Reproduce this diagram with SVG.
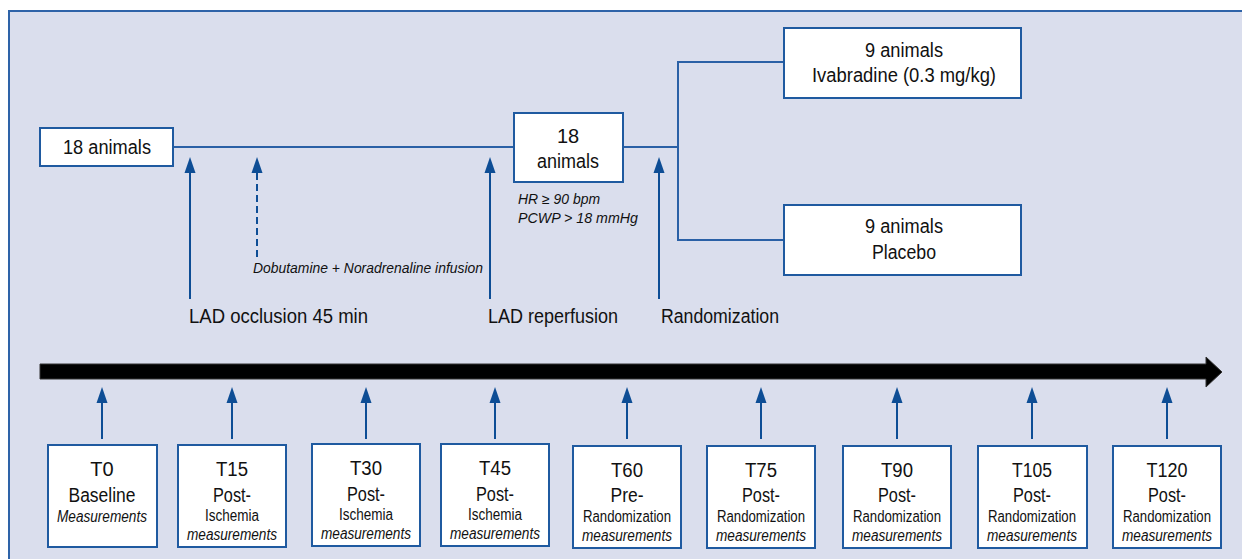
<svg xmlns="http://www.w3.org/2000/svg" width="1242" height="559" viewBox="0 0 1242 559">
<defs>
<style>
.bg{fill:#dadeed;stroke:#2e63a8;stroke-width:2}
.box{fill:#fff;stroke:#1f5aa0;stroke-width:2}
.con{fill:none;stroke:#2a60a6;stroke-width:2}
.arr{fill:none;stroke:#0d4d95;stroke-width:2}
.dash{stroke-dasharray:7 4}
text{font-family:"Liberation Sans",Arial,sans-serif;fill:#111}
.big{font-size:20px}
.mid{font-size:20px}
.sm{font-size:16px}
.it{font-size:14px;font-style:italic}
.itm{font-size:16px;font-style:italic}
.c{text-anchor:middle}
</style>
<marker id="ah" markerUnits="userSpaceOnUse" markerWidth="16" markerHeight="12" viewBox="0 0 16 12" refX="13" refY="6" orient="auto">
<path d="M16,6 L0,0.5 L0,11.5 Z" fill="#0d4d95"/>
</marker>
</defs>
<rect class="bg" x="9" y="11" width="1240" height="560"/>

<g id="connectors">
<line class="con" x1="173" y1="147" x2="514" y2="147"/>
<line class="con" x1="623" y1="147" x2="678" y2="147"/>
<polyline class="con" points="784,62 678,62 678,240 784,240"/>
<path id="timeline" d="M40,364 L1206,364 L1206,357 L1222,372 L1206,387 L1206,379 L40,379 Z" fill="#000" stroke="#333" stroke-width="1"/>
<g class="arr">
<path d="M190,299 L190,160" marker-end="url(#ah)"/>
<path class="dash" d="M257,257 L257,160" marker-end="url(#ah)"/>
<path d="M490,299 L490,160" marker-end="url(#ah)"/>
<path d="M659,299 L659,160" marker-end="url(#ah)"/>
<path d="M102,439 L102,390" marker-end="url(#ah)"/>
<path d="M232,439 L232,390" marker-end="url(#ah)"/>
<path d="M366,439 L366,390" marker-end="url(#ah)"/>
<path d="M495,439 L495,390" marker-end="url(#ah)"/>
<path d="M627,439 L627,390" marker-end="url(#ah)"/>
<path d="M761,439 L761,390" marker-end="url(#ah)"/>
<path d="M897,439 L897,390" marker-end="url(#ah)"/>
<path d="M1032,439 L1032,390" marker-end="url(#ah)"/>
<path d="M1167,439 L1167,390" marker-end="url(#ah)"/>
</g>
</g>

<g id="labels">
<text class="it" x="253" y="273" textLength="230" lengthAdjust="spacingAndGlyphs">Dobutamine + Noradrenaline infusion</text>
<text class="big" x="189" y="323" textLength="179" lengthAdjust="spacingAndGlyphs">LAD occlusion 45 min</text>
<text class="big" x="488" y="323" textLength="130" lengthAdjust="spacingAndGlyphs">LAD reperfusion</text>
<text class="big" x="661" y="323" textLength="118" lengthAdjust="spacingAndGlyphs">Randomization</text>
<text class="it" x="518" y="204" textLength="82" lengthAdjust="spacingAndGlyphs">HR ≥ 90 bpm</text>
<text class="it" x="518" y="223" textLength="120" lengthAdjust="spacingAndGlyphs">PCWP &gt; 18 mmHg</text>
</g>

<g id="n_start">
<rect class="box" x="40" y="128" width="133" height="38"/>
<text class="big c" x="107" y="154" textLength="88" lengthAdjust="spacingAndGlyphs">18 animals</text>
</g>
<g id="n_mid">
<rect class="box" x="514" y="113" width="109" height="69"/>
<text class="big c" x="568" y="143" font-size="21">18</text>
<text class="big c" x="568" y="168" font-size="21" textLength="62" lengthAdjust="spacingAndGlyphs">animals</text>
</g>
<g id="n_ivab">
<rect class="box" x="784" y="28" width="237" height="70"/>
<text class="big c" x="904" y="57" textLength="78" lengthAdjust="spacingAndGlyphs">9 animals</text>
<text class="big c" x="904" y="82" textLength="184" lengthAdjust="spacingAndGlyphs">Ivabradine (0.3 mg/kg)</text>
</g>
<g id="n_plac">
<rect class="box" x="784" y="205" width="237" height="70"/>
<text class="big c" x="904" y="233" textLength="78" lengthAdjust="spacingAndGlyphs">9 animals</text>
<text class="big c" x="904" y="259" textLength="64" lengthAdjust="spacingAndGlyphs">Placebo</text>
</g>

<g id="t0">
<rect class="box" x="48" y="445" width="109" height="102"/>
<text class="mid c" x="102" y="476">T0</text>
<text class="mid c" x="102" y="502" textLength="67" lengthAdjust="spacingAndGlyphs">Baseline</text>
<text class="itm c" x="102" y="522" textLength="90" lengthAdjust="spacingAndGlyphs">Measurements</text>
</g>
<g id="t15">
<rect class="box" x="178" y="445" width="108" height="102"/>
<text class="mid c" x="232" y="476" textLength="32" lengthAdjust="spacingAndGlyphs">T15</text>
<text class="mid c" x="232" y="502" textLength="38" lengthAdjust="spacingAndGlyphs">Post-</text>
<text class="sm c" x="232" y="521" textLength="54" lengthAdjust="spacingAndGlyphs">Ischemia</text>
<text class="itm c" x="232" y="540" textLength="90" lengthAdjust="spacingAndGlyphs">measurements</text>
</g>
<g id="t30">
<rect class="box" x="312" y="444" width="108" height="102"/>
<text class="mid c" x="366" y="475" textLength="32" lengthAdjust="spacingAndGlyphs">T30</text>
<text class="mid c" x="366" y="501" textLength="38" lengthAdjust="spacingAndGlyphs">Post-</text>
<text class="sm c" x="366" y="520" textLength="54" lengthAdjust="spacingAndGlyphs">Ischemia</text>
<text class="itm c" x="366" y="539" textLength="90" lengthAdjust="spacingAndGlyphs">measurements</text>
</g>
<g id="t45">
<rect class="box" x="441" y="444" width="108" height="102"/>
<text class="mid c" x="495" y="475" textLength="32" lengthAdjust="spacingAndGlyphs">T45</text>
<text class="mid c" x="495" y="501" textLength="38" lengthAdjust="spacingAndGlyphs">Post-</text>
<text class="sm c" x="495" y="520" textLength="54" lengthAdjust="spacingAndGlyphs">Ischemia</text>
<text class="itm c" x="495" y="539" textLength="90" lengthAdjust="spacingAndGlyphs">measurements</text>
</g>
<g id="t60">
<rect class="box" x="573" y="446" width="108" height="102"/>
<text class="mid c" x="627" y="477" textLength="32" lengthAdjust="spacingAndGlyphs">T60</text>
<text class="mid c" x="627" y="502" textLength="33" lengthAdjust="spacingAndGlyphs">Pre-</text>
<text class="sm c" x="627" y="522" textLength="88" lengthAdjust="spacingAndGlyphs">Randomization</text>
<text class="itm c" x="627" y="541" textLength="90" lengthAdjust="spacingAndGlyphs">measurements</text>
</g>
<g id="t75">
<rect class="box" x="707" y="446" width="108" height="102"/>
<text class="mid c" x="761" y="477" textLength="32" lengthAdjust="spacingAndGlyphs">T75</text>
<text class="mid c" x="761" y="502" textLength="38" lengthAdjust="spacingAndGlyphs">Post-</text>
<text class="sm c" x="761" y="522" textLength="88" lengthAdjust="spacingAndGlyphs">Randomization</text>
<text class="itm c" x="761" y="541" textLength="90" lengthAdjust="spacingAndGlyphs">measurements</text>
</g>
<g id="t90">
<rect class="box" x="843" y="446" width="108" height="102"/>
<text class="mid c" x="897" y="477" textLength="32" lengthAdjust="spacingAndGlyphs">T90</text>
<text class="mid c" x="897" y="502" textLength="38" lengthAdjust="spacingAndGlyphs">Post-</text>
<text class="sm c" x="897" y="522" textLength="88" lengthAdjust="spacingAndGlyphs">Randomization</text>
<text class="itm c" x="897" y="541" textLength="90" lengthAdjust="spacingAndGlyphs">measurements</text>
</g>
<g id="t105">
<rect class="box" x="978" y="446" width="109" height="102"/>
<text class="mid c" x="1032" y="477" textLength="40" lengthAdjust="spacingAndGlyphs">T105</text>
<text class="mid c" x="1032" y="502" textLength="38" lengthAdjust="spacingAndGlyphs">Post-</text>
<text class="sm c" x="1032" y="522" textLength="88" lengthAdjust="spacingAndGlyphs">Randomization</text>
<text class="itm c" x="1032" y="541" textLength="90" lengthAdjust="spacingAndGlyphs">measurements</text>
</g>
<g id="t120">
<rect class="box" x="1113" y="446" width="108" height="102"/>
<text class="mid c" x="1167" y="477" textLength="41" lengthAdjust="spacingAndGlyphs">T120</text>
<text class="mid c" x="1167" y="502" textLength="38" lengthAdjust="spacingAndGlyphs">Post-</text>
<text class="sm c" x="1167" y="522" textLength="88" lengthAdjust="spacingAndGlyphs">Randomization</text>
<text class="itm c" x="1167" y="541" textLength="90" lengthAdjust="spacingAndGlyphs">measurements</text>
</g>
</svg>
